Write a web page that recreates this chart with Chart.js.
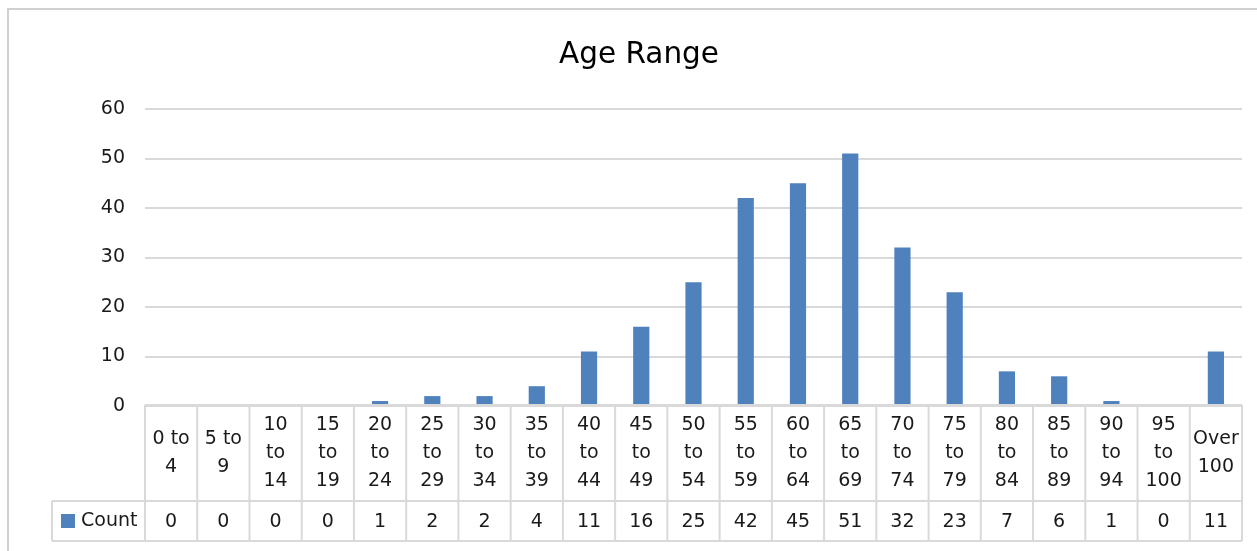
<!DOCTYPE html>
<html>
<head>
<meta charset="utf-8">
<script src="https://cdn.jsdelivr.net/npm/chart.js@4"></script>
<style>
html,body{margin:0;padding:0;background:#fff;}
#c{display:block;}
</style>
</head>
<body>
<canvas id="c" width="1257" height="551"></canvas>
<script>
const chartTitle = "Age Range";
const seriesName = "Count";
const categories = ["0 to 4","5 to 9","10 to 14","15 to 19","20 to 24","25 to 29","30 to 34","35 to 39","40 to 44","45 to 49","50 to 54","55 to 59","60 to 64","65 to 69","70 to 74","75 to 79","80 to 84","85 to 89","90 to 94","95 to 100","Over 100"];
const counts = [0,0,0,0,1,2,2,4,11,16,25,42,45,51,32,23,7,6,1,0,11];
const yTicks = [0,10,20,30,40,50,60];

const FONT = "'DejaVu Sans', sans-serif";
const BAR = "#4F81BD";
const LINE = "#d9d9d9";
const TEXT = "#1a1a1a";

function wrap(ctx, text, maxW){
  const words = text.split(" ");
  const lines = [];
  let cur = "";
  for(const w of words){
    const t = cur ? cur + " " + w : w;
    if(!cur || ctx.measureText(t).width <= maxW){ cur = t; }
    else { lines.push(cur); cur = w; }
  }
  if(cur) lines.push(cur);
  return lines;
}

const tablePlugin = {
  id: "dataTable",
  afterDraw(chart){
    const ctx = chart.ctx;
    const xs = chart.scales.x;
    const ys = chart.scales.y;
    const n = categories.length;
    const half = (xs.getPixelForValue(1) - xs.getPixelForValue(0)) / 2;
    const top = ys.getPixelForValue(0) - 1;
    const mid = top + 96;
    const bot = mid + 40;
    const legLeft = 52;
    const left = xs.getPixelForValue(0) - half;
    const right = xs.getPixelForValue(n-1) + half;
    ctx.save();
    // title
    ctx.fillStyle = "#000";
    ctx.font = "29.5px " + FONT;
    ctx.textAlign = "center";
    ctx.textBaseline = "alphabetic";
    ctx.fillText(chartTitle, 639, 63);

    ctx.strokeStyle = LINE;
    ctx.lineWidth = 2;
    ctx.beginPath();
    ctx.moveTo(left, top); ctx.lineTo(right, top);
    ctx.moveTo(legLeft, mid); ctx.lineTo(right, mid);
    ctx.moveTo(legLeft, bot); ctx.lineTo(right, bot);
    ctx.moveTo(legLeft, mid); ctx.lineTo(legLeft, bot);
    for(let i=0;i<=n;i++){
      const x = (i<n ? xs.getPixelForValue(i) - half : right);
      ctx.moveTo(x, top); ctx.lineTo(x, bot);
    }
    ctx.stroke();

    ctx.fillStyle = TEXT;
    ctx.font = "19px " + FONT;
    ctx.textAlign = "center";
    ctx.textBaseline = "middle";
    const lh = 28;
    for(let i=0;i<n;i++){
      const cx = xs.getPixelForValue(i);
      const lines = wrap(ctx, categories[i], half*2 - 10);
      const cy = (top + mid)/2;
      const y0 = cy - (lines.length-1)*lh/2;
      lines.forEach((l,k)=>ctx.fillText(l, cx, y0 + k*lh));
      ctx.fillText(String(counts[i]), cx, (mid+bot)/2 + 1);
    }
    // legend cell
    ctx.fillStyle = BAR;
    ctx.fillRect(61, (mid+bot)/2 - 7, 14, 14);
    ctx.fillStyle = TEXT;
    ctx.textAlign = "left";
    ctx.fillText(seriesName, 81, (mid+bot)/2);
    // outer chart border
    ctx.strokeStyle = "#d0d0d0";
    ctx.lineWidth = 2;
    ctx.strokeRect(8, 9, 1400, 700);
    ctx.restore();
  }
};

new Chart(document.getElementById("c"), {
  type: "bar",
  data: {
    labels: categories,
    datasets: [{
      label: seriesName,
      data: counts,
      backgroundColor: BAR,
      borderWidth: 0,
      barPercentage: 0.31,
      categoryPercentage: 1
    }]
  },
  options: {
    responsive: false,
    devicePixelRatio: 1,
    animation: false,
    layout: { padding: { left: 0, right: 15, top: 109, bottom: 145 } },
    plugins: {
      legend: { display: false },
      tooltip: { enabled: false },
      title: { display: false }
    },
    scales: {
      x: {
        display: false,
        offset: true,
        grid: { display: false }
      },
      y: {
        min: 0, max: 60,
        afterFit(scale){ scale.width = 145; },
        afterBuildTicks(scale){ scale.ticks = yTicks.map(v=>({value:v})); },
        border: { display: false },
        grid: { color: LINE, lineWidth: 2, drawTicks: false },
        ticks: {
          padding: 20,
          color: TEXT,
          font: { family: FONT, size: 19 }
        }
      }
    }
  },
  plugins: [tablePlugin]
});
</script>
</body>
</html>
